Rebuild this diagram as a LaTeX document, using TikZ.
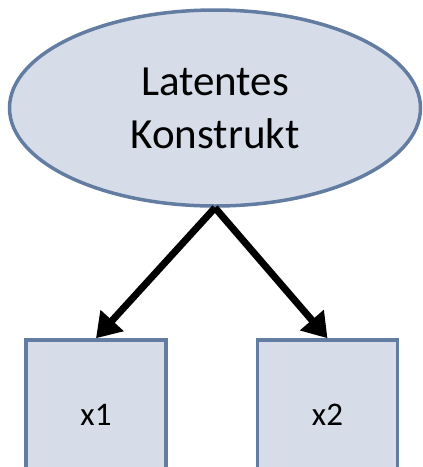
\documentclass[tikz,border=0pt]{standalone}
\usepackage{fontspec}
\setmainfont{Carlito}
\usetikzlibrary{shapes.geometric,arrows.meta,positioning}
\definecolor{boxfill}{RGB}{214,221,232}
\definecolor{boxline}{RGB}{98,124,162}
\begin{document}
\begin{tikzpicture}[x=1pt,y=-1pt,>/.tip={Triangle[length=24pt,width=30pt]},
    latent/.style={ellipse,draw=boxline,fill=boxfill,line width=3.5pt,
      minimum width=411pt,minimum height=196pt,inner sep=0pt,align=center,
      font=\fontsize{43}{53}\selectfont},
    manifest/.style={rectangle,draw=boxline,fill=boxfill,line width=3.5pt,
      minimum width=140pt,minimum height=150pt,inner sep=0pt,
      font=\fontsize{33}{38}\selectfont}]
    \useasboundingbox (0,0) rectangle (423,467);
    % The latent construct
    \node[latent] (konstrukt) at (215,108) {Latentes\\Konstrukt};
    % The indicators
    \node[manifest] (xeins) at (96,415) {x1};
    \node[manifest] (xzwei) at (327.5,415) {x2};
    % The paths
    \draw[->,line width=7pt] (konstrukt.south) -- (xeins.north);
    \draw[->,line width=7pt] (konstrukt.south) -- (xzwei.north);
\end{tikzpicture}
\end{document}
